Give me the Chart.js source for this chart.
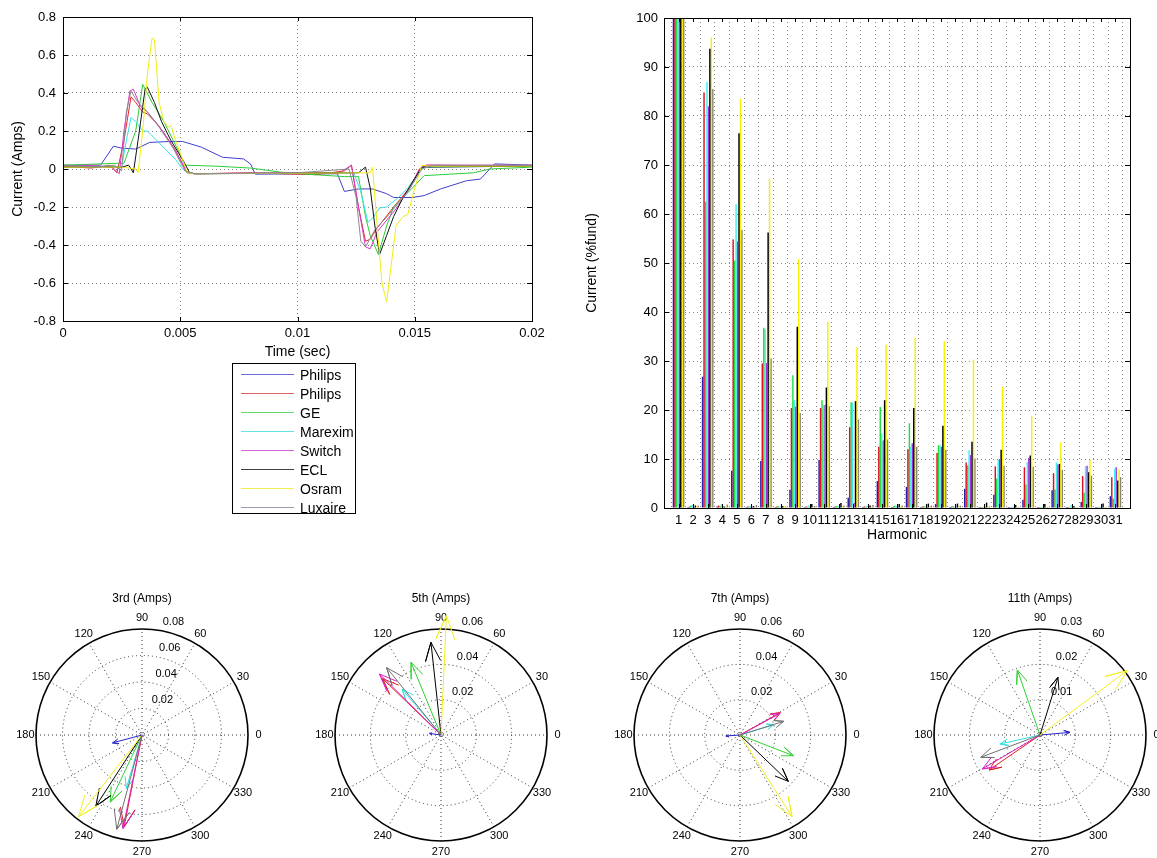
<!DOCTYPE html>
<html>
<head>
<script src="https://cdn.jsdelivr.net/npm/chart.js@4.4.1/dist/chart.umd.min.js"></script>
<style>
  body { margin: 0; background: #fff; }
  #page { position: relative; width: 1157px; height: 858px; overflow: hidden; font-family: "Liberation Sans", Arial, sans-serif; }
  canvas { position: absolute; }
  #legend { position: absolute; left: 232px; top: 363px; width: 124px; height: 151px; border: 1px solid #000; background: #fff; padding-top: 1px; box-sizing: border-box; }
  .row { display: flex; align-items: center; height: 19px; font-size: 14px; color: #000; white-space: nowrap; }
  .swatch { flex: none; width: 53px; height: 0; border-top: 1px solid; margin-left: 8px; margin-right: 6px; }
</style>
</head>
<body>
<div id="page">
  <canvas id="wave" width="560" height="365" style="left:0;top:0"></canvas>
  <canvas id="harm" width="577" height="548" style="left:580px;top:0"></canvas>
  <div id="legend"></div>
  <canvas id="p3" width="300" height="300"></canvas>
  <canvas id="p5" width="300" height="300"></canvas>
  <canvas id="p7" width="300" height="300"></canvas>
  <canvas id="p11" width="300" height="300"></canvas>
</div>
<script>
// series (same order everywhere)
var seriesNames = ["Philips", "Philips", "GE", "Marexim", "Switch", "ECL", "Osram", "Luxaire"];
var lineColors = ["#4040cc", "#e42828", "#2ccc3c", "#38e2e6", "#dc36cc", "#111111", "#f0ee10", "#8a8a90"];
var legendColors = ["#6a6ad8", "#e06060", "#60d870", "#60e4e4", "#d868d8", "#404040", "#f2f050", "#9a9aa8"];
var barColors = ["#2b1bb0", "#e01020", "#20e040", "#40f0f0", "#a030e0", "#000000", "#f8f000", "#8c8670"];
var arrowColors = ["#2424c8", "#e02020", "#30d030", "#30e0e0", "#e020c0", "#000000", "#f0f020", "#707070"];

// waveforms: time (s) and current (A)
var tPhilipsA = [0, 0.0016, 0.00215, 0.0025, 0.0031, 0.0037, 0.0046, 0.0051, 0.0059, 0.0068, 0.0077, 0.008, 0.0082, 0.0117, 0.012, 0.0126, 0.0132, 0.0138, 0.0141, 0.0149, 0.0154, 0.0161, 0.0172, 0.0178, 0.0182, 0.0184, 0.02];
var iPhilipsA = [0.02, 0.02, 0.12, 0.11, 0.105, 0.14, 0.145, 0.145, 0.115, 0.062, 0.053, 0.026, -0.027, -0.025, -0.118, -0.105, -0.105, -0.13, -0.15, -0.15, -0.14, -0.105, -0.062, -0.053, 0.0, 0.027, 0.02];
var tPhilipsB = [0, 0.0012, 0.002, 0.0023, 0.0026, 0.0029, 0.0031, 0.0034, 0.0036, 0.004, 0.0043, 0.0048, 0.0053, 0.0056, 0.008, 0.0108, 0.012, 0.0123, 0.0126, 0.0129, 0.0131, 0.0134, 0.0141, 0.0148, 0.0152, 0.0155, 0.02];
var iPhilipsB = [0.015, 0.005, 0.02, -0.02, 0.15, 0.38, 0.35, 0.3, 0.29, 0.24, 0.19, 0.097, -0.02, -0.025, -0.02, -0.03, -0.01, 0.02, -0.2, -0.38, -0.37, -0.31, -0.2, -0.097, 0, 0.02, 0.015];
var tGE = [0, 0.0023, 0.0026, 0.0031, 0.0034, 0.0038, 0.0043, 0.0049, 0.0052, 0.0065, 0.008, 0.0095, 0.012, 0.0126, 0.0129, 0.0131, 0.01345, 0.0138, 0.0141, 0.0149, 0.0154, 0.0175, 0.0182, 0.02];
var iGE = [0.02, 0.03, 0.03, 0.2, 0.445, 0.35, 0.25, 0.1, 0.02, 0.015, 0.005, -0.02, -0.04, -0.04, -0.25, -0.35, -0.45, -0.3, -0.2, -0.1, -0.035, -0.02, 0.0, 0.01];
var tMarexim = [0, 0.002, 0.0025, 0.0027, 0.0029, 0.0031, 0.0034, 0.0036, 0.004, 0.0044, 0.0048, 0.0051, 0.0053, 0.0056, 0.0124, 0.0127, 0.013, 0.0132, 0.0135, 0.0138, 0.0143, 0.0147, 0.0151, 0.0154, 0.02];
var iMarexim = [0.01, 0.015, 0.01, 0.15, 0.27, 0.25, 0.2, 0.2, 0.15, 0.1, 0.05, 0.0, -0.02, -0.025, -0.02, -0.12, -0.28, -0.26, -0.205, -0.2, -0.15, -0.1, -0.03, 0.01, 0.015];
var tSwitch = [0, 0.001, 0.0021, 0.0024, 0.0026, 0.00285, 0.003, 0.0033, 0.0036, 0.004, 0.0043, 0.0048, 0.0053, 0.0056, 0.009, 0.0118, 0.0123, 0.0126, 0.0129, 0.0131, 0.0134, 0.0142, 0.0148, 0.0152, 0.0155, 0.02];
var iSwitch = [0.01, 0.02, 0.01, -0.025, 0.2, 0.41, 0.42, 0.33, 0.3, 0.24, 0.19, 0.095, -0.02, -0.025, -0.02, -0.02, 0.02, -0.2, -0.41, -0.42, -0.33, -0.21, -0.1, 0, 0.02, 0.02];
var tECL = [0, 0.0025, 0.0028, 0.003, 0.0032, 0.0035, 0.0036, 0.0039, 0.0042, 0.0046, 0.0051, 0.0054, 0.0057, 0.0126, 0.0129, 0.0131, 0.0133, 0.0135, 0.0138, 0.0141, 0.0145, 0.015, 0.0153, 0.02];
var iECL = [0.01, 0.01, 0.02, -0.02, 0.15, 0.42, 0.43, 0.35, 0.25, 0.15, 0.05, -0.02, -0.025, -0.02, 0.01, -0.1, -0.3, -0.45, -0.35, -0.25, -0.15, -0.05, 0.01, 0.015];
var tOsram = [0, 0.0025, 0.0031, 0.0032, 0.0034, 0.0036, 0.0038, 0.0039, 0.0041, 0.0043, 0.0045, 0.0046, 0.0048, 0.0051, 0.0053, 0.0056, 0.0131, 0.0132, 0.0134, 0.0136, 0.0138, 0.014, 0.0142, 0.0145, 0.0147, 0.015, 0.0153, 0.0156, 0.02];
var iOsram = [0.01, 0.01, 0.0, -0.02, 0.2, 0.5, 0.69, 0.68, 0.35, 0.25, 0.22, 0.23, 0.15, 0.05, -0.02, -0.025, -0.02, 0.01, -0.3, -0.6, -0.7, -0.5, -0.3, -0.25, -0.24, -0.1, 0.02, 0.015, 0.015];
var tLuxaire = [0, 0.0015, 0.0022, 0.0025, 0.0027, 0.0029, 0.0032, 0.0036, 0.0041, 0.0047, 0.0052, 0.0056, 0.01, 0.0122, 0.0125, 0.0127, 0.0129, 0.0133, 0.0139, 0.0147, 0.0153, 0.0158, 0.02];
var iLuxaire = [0.02, 0.01, 0.02, -0.01, 0.3, 0.41, 0.35, 0.3, 0.22, 0.11, -0.01, -0.025, -0.02, 0.0, -0.15, -0.38, -0.41, -0.32, -0.24, -0.12, 0.0, 0.02, 0.02];

// harmonic spectrum (% of fundamental)
var harmonics = [1, 2, 3, 4, 5, 6, 7, 8, 9, 10, 11, 12, 13, 14, 15, 16, 17, 18, 19, 20, 21, 22, 23, 24, 25, 26, 27, 28, 29, 30, 31];
var hPhilipsA = [100, 0.2, 26.8, 0.3, 7.6, 0.2, 9.6, 0.2, 3.7, 0.2, 9.8, 0.2, 2.1, 0.2, 5.5, 0.2, 4.3, 0.2, 0.8, 0.2, 3.9, 0.2, 2.7, 0.2, 1.7, 0.2, 3.6, 0.2, 1.2, 0.2, 2.4];
var hPhilipsB = [100, 0.3, 84.8, 0.5, 54.8, 0.3, 29.5, 0.3, 20.4, 0.3, 20.4, 0.3, 16.5, 0.3, 12.5, 0.3, 12, 0.3, 11.2, 0.3, 9.3, 0.2, 8.5, 0.2, 8.3, 0.2, 7.1, 0.2, 6.5, 0.2, 6.3];
var hGE = [100, 0.5, 62.5, 0.4, 50.5, 0.3, 36.8, 0.4, 27.1, 0.3, 22, 0.4, 21.6, 0.3, 20.6, 0.5, 17.3, 0.4, 12.8, 0.4, 8.7, 0.2, 6, 0.2, 4.8, 0.2, 3.8, 0.2, 3.1, 0.2, 1.9];
var hMarexim = [100, 0.6, 87, 0.8, 62, 0.4, 36.5, 0.3, 22, 0.5, 21, 0.4, 21.5, 0.4, 15.2, 0.4, 12.5, 0.3, 12.8, 0.3, 11.8, 0.3, 9.8, 0.3, 9.4, 0.3, 9.3, 0.6, 8.5, 0.3, 8];
var hSwitch = [100, 0.3, 82, 0.4, 54.4, 0.3, 29.6, 0.2, 20.7, 0.3, 21, 0.3, 1.0, 0.2, 13.8, 0.3, 13.2, 0.3, 12.5, 0.3, 10.8, 0.2, 10, 0.2, 10.2, 0.2, 8.9, 0.2, 8.6, 0.2, 8.3];
var hECL = [100, 0.5, 93.7, 0.3, 76.5, 0.4, 56.2, 0.4, 37, 0.8, 24.6, 1.0, 21.8, 0.5, 22, 0.8, 20.4, 0.9, 16.8, 0.9, 13.5, 1.1, 11.9, 0.6, 10.7, 0.8, 9, 0.4, 7.3, 0.9, 5.6];
var hOsram = [100, 0.3, 96, 0.2, 83.5, 0.2, 67.2, 0.3, 50.8, 0.3, 38, 0.3, 32.8, 0.3, 33.3, 0.3, 34.8, 0.3, 34, 0.3, 30.3, 0.3, 24.8, 0.2, 18.8, 0.2, 13.4, 0.2, 9.8, 0.2, 7.9];
var hLuxaire = [100, 0.5, 85.5, 0.7, 56.8, 0.6, 30.5, 0.3, 19.4, 0.4, 20.8, 0.5, 18.1, 0.6, 14, 0.5, 12.5, 0.5, 11.9, 0.5, 10.1, 0.3, 8.6, 0.2, 8.4, 0.2, 7.8, 0.2, 6.6, 0.2, 6.3];

// compass plots: magnitude (A) and phase (deg) per series
var mag3 = [0.023, 0.0705, 0.056, 0.042, 0.072, 0.064, 0.078, 0.0737];
var ang3 = [195, 259, 244.6, 253.6, 258.5, 237, 232.2, 255];
var mag5 = [0.0065, 0.046, 0.0445, 0.034, 0.049, 0.0528, 0.0676, 0.049];
var ang5 = [172, 136, 112.4, 130.3, 135.2, 96.2, 87.4, 128.9];
var mag7 = [0.008, 0.026, 0.0324, 0.020, 0.0258, 0.0379, 0.0548, 0.026];
var ang7 = [184, 29, 338.8, 16.9, 28.4, 316.2, 302.5, 17.3];
var mag11 = [0.0085, 0.0175, 0.0195, 0.0116, 0.0189, 0.0171, 0.0307, 0.0179];
var ang11 = [5, 214.5, 109.2, 192.7, 210.5, 72.7, 36.4, 200.6];
var rings3 = [0.02, 0.04, 0.06, 0.08];
var rings5 = [0.02, 0.04, 0.06];
var rings7 = [0.02, 0.04, 0.06];
var rings11 = [0.01, 0.02, 0.03];
var angleTicks = [0, 30, 60, 90, 120, 150, 180, 210, 240, 270, 300, 330];

Chart.defaults.font.family = '"Liberation Sans", Arial, sans-serif';
Chart.defaults.color = "#000";
Chart.defaults.animation = false;

// box + inward ticks like matlab axes
var boxPlugin = {
  id: "box",
  afterDraw: function (chart) {
    var a = chart.chartArea, ctx = chart.ctx;
    var xs = chart.scales.x, ys = chart.scales.y;
    ctx.save();
    ctx.strokeStyle = "#000";
    ctx.lineWidth = 1;
    ctx.beginPath();
    xs.ticks.forEach(function (t) {
      var px = Math.round(xs.getPixelForValue(t.value)) + 0.5;
      ctx.moveTo(px, a.bottom); ctx.lineTo(px, a.bottom - 4);
      ctx.moveTo(px, a.top); ctx.lineTo(px, a.top + 4);
    });
    ys.ticks.forEach(function (t) {
      var py = Math.round(ys.getPixelForValue(t.value)) + 0.5;
      ctx.moveTo(a.left, py); ctx.lineTo(a.left + 5, py);
      ctx.moveTo(a.right, py); ctx.lineTo(a.right - 5, py);
    });
    ctx.stroke();
    ctx.strokeRect(Math.round(a.left) + 0.5, Math.round(a.top) + 0.5, Math.round(a.right - a.left), Math.round(a.bottom - a.top));
    ctx.restore();
  }
};

function gridOpts() {
  return { color: "#888", lineWidth: 1, drawTicks: false };
}

// ---- waveform chart ----
var waveT = [tPhilipsA, tPhilipsB, tGE, tMarexim, tSwitch, tECL, tOsram, tLuxaire];
var waveI = [iPhilipsA, iPhilipsB, iGE, iMarexim, iSwitch, iECL, iOsram, iLuxaire];
var waveSets = [];
for (var s = 0; s < seriesNames.length; s++) {
  var pts = [];
  for (var k = 0; k < waveT[s].length; k++) pts.push({ x: waveT[s][k], y: waveI[s][k] });
  waveSets.push({
    label: seriesNames[s], data: pts, borderColor: lineColors[s], borderWidth: 1,
    pointRadius: 0, fill: false, tension: 0, order: 8 - s
  });
}

new Chart(document.getElementById("wave"), {
  type: "line",
  data: { datasets: waveSets },
  plugins: [boxPlugin],
  options: {
    responsive: false,
    events: [],
    layout: { padding: { top: 17, right: 28, left: 0, bottom: 0 } },
    plugins: { legend: { display: false }, tooltip: { enabled: false } },
    scales: {
      x: {
        type: "linear", min: 0, max: 0.02,
        ticks: { stepSize: 0.005, padding: 5, font: { size: 13 },
          callback: function (v) { return String(+v.toFixed(3)); } },
        grid: gridOpts(), border: { dash: [1, 3], color: "#000" },
        title: { display: true, text: "Time (sec)", font: { size: 14 }, padding: { top: 0, bottom: 4 } },
        afterFit: function (sc) { sc.height = 44; }
      },
      y: {
        min: -0.8, max: 0.8,
        ticks: { stepSize: 0.2, padding: 7, font: { size: 13 },
          callback: function (v) { var r = +v.toFixed(1); return r === 0 ? "0" : String(r); } },
        grid: gridOpts(), border: { dash: [1, 3], color: "#000" },
        title: { display: true, text: "Current (Amps)", font: { size: 14 }, padding: { top: 10, bottom: 0 } },
        afterFit: function (sc) { sc.width = 63; }
      }
    }
  }
});

// ---- legend ----
var legendBox = document.getElementById("legend");
seriesNames.forEach(function (name, i) {
  var row = document.createElement("div");
  row.className = "row";
  row.innerHTML = '<div class="swatch" style="border-top-color:' + legendColors[i] + '"></div><span>' + name + "</span>";
  legendBox.appendChild(row);
});

// ---- harmonic bar chart ----
var harmVals = [hPhilipsA, hPhilipsB, hGE, hMarexim, hSwitch, hECL, hOsram, hLuxaire];
var barSets = harmVals.map(function (vals, i) {
  return {
    label: seriesNames[i],
    data: harmonics.map(function (h, j) { return { x: h, y: vals[j] }; }),
    backgroundColor: barColors[i], borderWidth: 0,
    categoryPercentage: 0.8, barPercentage: 1
  };
});

new Chart(document.getElementById("harm"), {
  type: "bar",
  data: { datasets: barSets },
  plugins: [boxPlugin],
  options: {
    responsive: false,
    events: [],
    layout: { padding: { top: 18, right: 27, left: 0, bottom: 0 } },
    plugins: { legend: { display: false }, tooltip: { enabled: false } },
    scales: {
      x: {
        type: "linear", min: 0, max: 32, offset: false,
        ticks: { stepSize: 1, maxTicksLimit: 40, autoSkip: false, maxRotation: 0, minRotation: 0, padding: 5, font: { size: 13 },
          callback: function (v) { return (v >= 1 && v <= 31) ? String(v) : ""; } },
        grid: gridOpts(), border: { dash: [1, 3], color: "#000" },
        title: { display: true, text: "Harmonic", font: { size: 14 }, padding: { top: 0, bottom: 4 } },
        afterFit: function (sc) { sc.height = 40; }
      },
      y: {
        min: 0, max: 100,
        ticks: { stepSize: 10, padding: 6, font: { size: 13 } },
        grid: gridOpts(), border: { dash: [1, 3], color: "#000" },
        title: { display: true, text: "Current (%fund)", font: { size: 14 }, padding: { top: 4, bottom: 0 } },
        afterFit: function (sc) { sc.width = 84; }
      }
    }
  }
});

// ---- compass plots ----
var polarGrid = {
  id: "polarGrid",
  beforeDatasetsDraw: function (chart, args, opts) {
    var xs = chart.scales.x, ys = chart.scales.y, ctx = chart.ctx;
    var cx = xs.getPixelForValue(0), cy = ys.getPixelForValue(0);
    var rings = opts.rings, rmax = rings[rings.length - 1];
    var R = xs.getPixelForValue(rmax) - cx;
    ctx.save();
    ctx.strokeStyle = "#333";
    ctx.lineWidth = 1;
    ctx.setLineDash([1, 3]);
    for (var a = 0; a < 180; a += 30) {
      var th = a * Math.PI / 180;
      ctx.beginPath();
      ctx.moveTo(cx - R * Math.cos(th), cy + R * Math.sin(th));
      ctx.lineTo(cx + R * Math.cos(th), cy - R * Math.sin(th));
      ctx.stroke();
    }
    for (var i = 0; i < rings.length - 1; i++) {
      var rp = xs.getPixelForValue(rings[i]) - cx;
      ctx.beginPath(); ctx.arc(cx, cy, rp, 0, 2 * Math.PI); ctx.stroke();
    }
    ctx.setLineDash([]);
    ctx.strokeStyle = "#000";
    ctx.lineWidth = 1.6;
    ctx.beginPath(); ctx.arc(cx, cy, R, 0, 2 * Math.PI); ctx.stroke();

    ctx.fillStyle = "#000";
    ctx.font = '11px "Liberation Sans", Arial, sans-serif';
    ctx.textAlign = "center";
    ctx.textBaseline = "middle";
    opts.angles.forEach(function (deg) {
      var t = deg * Math.PI / 180;
      ctx.fillText(String(deg), cx + 1.1 * R * Math.cos(t), cy - 1.1 * R * Math.sin(t));
    });
    ctx.textAlign = "left";
    ctx.textBaseline = "bottom";
    var c82 = Math.cos(82 * Math.PI / 180), s82 = Math.sin(82 * Math.PI / 180);
    rings.forEach(function (r) {
      var rp = xs.getPixelForValue(r) - cx;
      ctx.fillText(String(r), cx + rp * c82 + 6, cy - rp * s82 - 3);
    });
    ctx.textAlign = "center";
    ctx.textBaseline = "middle";
    ctx.font = '12px "Liberation Sans", Arial, sans-serif';
    ctx.fillText(opts.title, cx, cy - 1.283 * R);
    ctx.restore();
  }
};

var arrowShape = [[0, 0], [1, 0], [0.8, 0.08], [1, 0], [0.8, -0.08]];

function compass(id, cx, title, mags, angs, rings) {
  var el = document.getElementById(id);
  el.style.left = (cx - 150) + "px";
  el.style.top = (735 - 150) + "px";
  var rmax = rings[rings.length - 1];
  var lim = rmax * 150 / 106;
  var sets = mags.map(function (m, i) {
    var th = angs[i] * Math.PI / 180;
    var c = Math.cos(th), sn = Math.sin(th);
    return {
      label: seriesNames[i],
      data: arrowShape.map(function (p) { return { x: m * (p[0] * c - p[1] * sn), y: m * (p[0] * sn + p[1] * c) }; }),
      showLine: true, borderColor: arrowColors[i], borderWidth: 1,
      pointRadius: 0, fill: false, tension: 0, clip: false, order: 8 - i
    };
  });
  new Chart(el, {
    type: "scatter",
    data: { datasets: sets },
    plugins: [polarGrid],
    options: {
      responsive: false,
      events: [],
      layout: { padding: 0 },
      plugins: {
        legend: { display: false }, tooltip: { enabled: false },
        polarGrid: { title: title, rings: rings, angles: angleTicks }
      },
      scales: {
        x: { type: "linear", min: -lim, max: lim, display: false },
        y: { type: "linear", min: -lim, max: lim, display: false }
      }
    }
  });
}

compass("p3", 141.7, "3rd (Amps)", mag3, ang3, rings3);
compass("p5", 440.7, "5th (Amps)", mag5, ang5, rings5);
compass("p7", 740, "7th (Amps)", mag7, ang7, rings7);
compass("p11", 1039.7, "11th (Amps)", mag11, ang11, rings11);
</script>
</body>
</html>
